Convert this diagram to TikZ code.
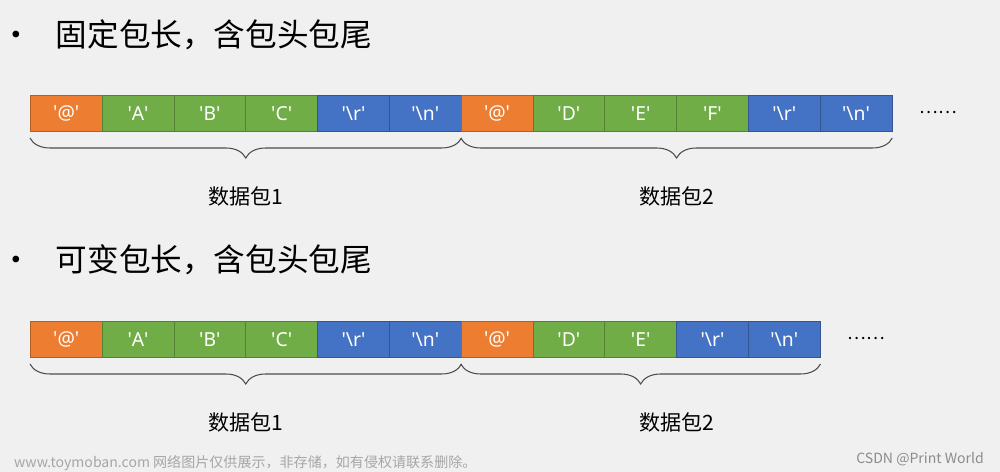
\documentclass[tikz,border=0pt]{standalone}
\usepackage{fontspec}
\setmainfont{Noto Sans CJK SC}
\newfontfamily\cellfont{Noto Sans}
\usepackage{xcolor}
\usetikzlibrary{calc,decorations.pathreplacing}
\definecolor{bg}{HTML}{F0F0F0}
\definecolor{orgcell}{HTML}{ED7D31}
\definecolor{grncell}{HTML}{70AD47}
\definecolor{blucell}{HTML}{4472C4}
\newcommand{\q}[1]{\textquotesingle#1\textquotesingle}
\tikzset{
  cell/.style={draw=#1!75!black,fill=#1,minimum width=1.436cm,minimum height=0.72cm,
    inner sep=0pt,text=white,font=\cellfont\fontsize{11}{11}\selectfont,anchor=south west},
  pkbrace/.style={decorate,decoration={brace,mirror,amplitude=0.4cm},draw=black!70,line width=0.6pt},
  pklabel/.style={font=\fontsize{12}{12}\selectfont},
  title/.style={anchor=west,font=\fontsize{18}{18}\selectfont},
}
\begin{document}
\begin{tikzpicture}[x=0.02cm,y=-0.02cm]
	\fill[bg] (0,0) rectangle (1000,472);
	\useasboundingbox (0,0) rectangle (1000,472);
	% % % % % % % % % % % % % % %
	%标题
	\node[title] (t1) at (-6,35) {•\hspace{0.48cm}固定包长，含包头包尾};
	\node[title] (t2) at (-6,260) {•\hspace{0.48cm}可变包长，含包头包尾};
	%第一行
	\foreach \i/\lab/\col in {0/@/orgcell,1/A/grncell,2/B/grncell,3/C/grncell,
		4/\textbackslash r/blucell,5/\textbackslash n/blucell,6/@/orgcell,7/D/grncell,
		8/E/grncell,9/F/grncell,10/\textbackslash r/blucell,11/\textbackslash n/blucell} {
		\node[cell=\col] (a\i) at (30+71.8*\i,132) {\q{\lab}};
	}
	\node (dots1) at (938,113) {……};
	\draw[pkbrace] ($(a0.south west)+(0,6)$) -- ($(a5.south east)+(0,6)$);
	\draw[pkbrace] ($(a6.south west)+(0,6)$) -- ($(a11.south east)+(0,6)$);
	\node[pklabel] (p1) at ($(a2.south east)+(0,64)$) {数据包1};
	\node[pklabel] (p2) at ($(a8.south east)+(0,64)$) {数据包2};
	%第二行
	\foreach \i/\lab/\col in {0/@/orgcell,1/A/grncell,2/B/grncell,3/C/grncell,
		4/\textbackslash r/blucell,5/\textbackslash n/blucell,6/@/orgcell,7/D/grncell,
		8/E/grncell,9/\textbackslash r/blucell,10/\textbackslash n/blucell} {
		\node[cell=\col] (b\i) at (30+71.8*\i,358) {\q{\lab}};
	}
	\node (dots2) at (866,339) {……};
	\draw[pkbrace] ($(b0.south west)+(0,6)$) -- ($(b5.south east)+(0,6)$);
	\draw[pkbrace] ($(b6.south west)+(0,6)$) -- ($(b10.south east)+(0,6)$);
	\node[pklabel] (q1) at ($(b2.south east)+(0,64)$) {数据包1};
	\node[pklabel] (q2) at ($(b8.south east)+(0,64)$) {数据包2};
	%水印
	\node[anchor=west,text=black!35,font=\fontsize{8}{8}\selectfont] (wm) at (8,463) {www.toymoban.com 网络图片仅供展示，非存储，如有侵权请联系删除。};
	\node[anchor=east,text=black!45,font=\fontsize{8}{8}\selectfont] (csdn) at (990,459) {CSDN @Print World};
\end{tikzpicture}
\end{document}
